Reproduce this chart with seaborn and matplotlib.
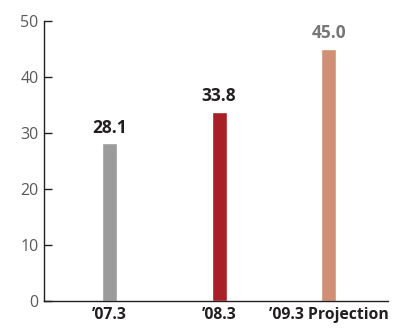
import matplotlib
matplotlib.use("Agg")
import matplotlib.pyplot as plt
import seaborn as sns
import pandas as pd

# Fiscal periods and values
periods = ["\u201907.3", "\u201908.3", "\u201909.3 Projection"]
values = [28.1, 33.8, 45.0]
bar_colors = ["#9b9b9b", "#a81f27", "#d09076"]
label_colors = ["#231f20", "#231f20", "#777777"]
y_ticks = [0, 10, 20, 30, 40, 50]

sns.set_theme(style="white")
plt.rcParams["font.family"] = ["Open Sans", "DejaVu Sans"]

df = pd.DataFrame({"period": periods, "value": values})

fig = plt.figure(figsize=(3.96, 3.29), dpi=100)
ax = fig.add_axes([0.111, 0.0866, 0.869, 0.8495])

sns.barplot(data=df, x="period", y="value", hue="period", palette=bar_colors,
            width=0.137, legend=False, ax=ax, saturation=1)

for i, (v, c) in enumerate(zip(values, label_colors)):
    ax.text(i, v + 1.2, f"{v:.1f}", ha="center", va="bottom",
            fontsize=12.5, fontweight="bold", color=c)

ax.set_ylim(0, 50)
ax.set_xlim(-0.598, 2.543)
ax.set_yticks(y_ticks)
ax.set_yticklabels([str(t) for t in y_ticks])
ax.set_xlabel("")
ax.set_ylabel("")

for side in ["top", "right"]:
    ax.spines[side].set_visible(False)
for side in ["left", "bottom"]:
    ax.spines[side].set_color("#231f20")
    ax.spines[side].set_linewidth(1.0)

ax.tick_params(axis="y", direction="in", length=6, width=1, color="#231f20",
               labelsize=11.5, labelcolor="#58595b", pad=4, left=True)
ax.tick_params(axis="x", length=0, labelsize=11.3, labelcolor="#231f20", pad=5)
for lbl in ax.get_xticklabels():
    lbl.set_fontweight("bold")

fig.savefig("out.png", dpi=100)
